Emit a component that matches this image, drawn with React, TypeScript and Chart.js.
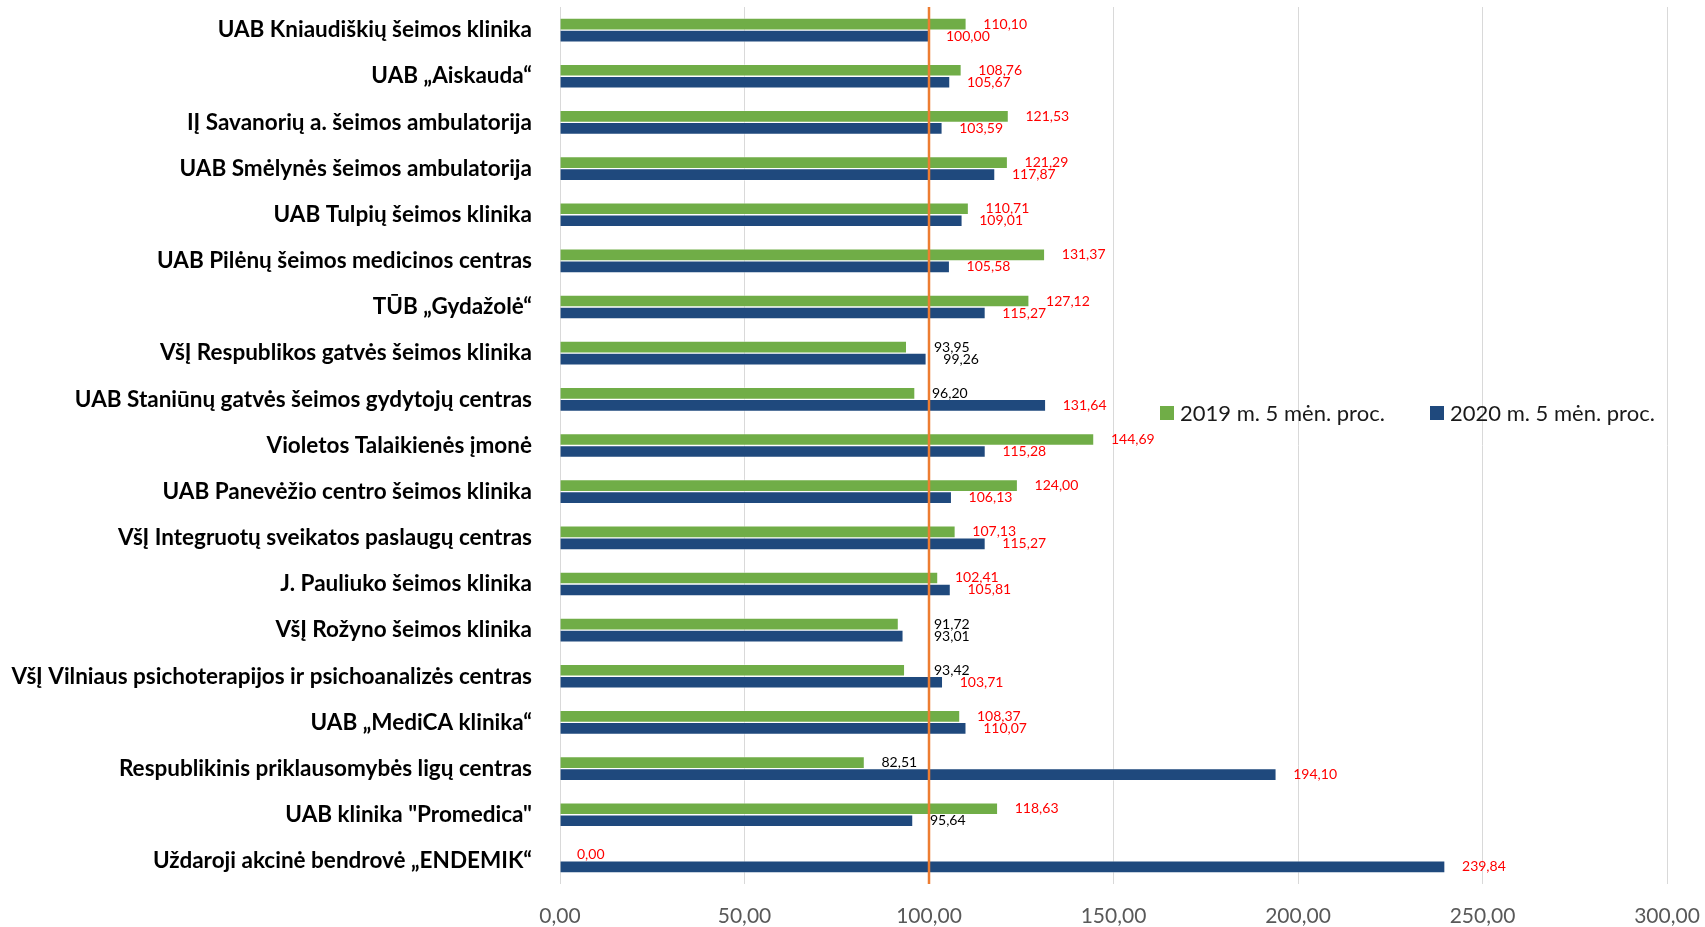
import React, { useEffect, useRef } from "react";
import { Chart, registerables } from "chart.js";

Chart.register(...registerables);

const categories = [
  "UAB Kniaudiškių šeimos klinika",
  "UAB „Aiskauda“",
  "IĮ Savanorių a. šeimos ambulatorija",
  "UAB Smėlynės šeimos ambulatorija",
  "UAB Tulpių šeimos klinika",
  "UAB Pilėnų šeimos medicinos centras",
  "TŪB „Gydažolė“",
  "VšĮ Respublikos gatvės šeimos klinika",
  "UAB Staniūnų gatvės šeimos gydytojų centras",
  "Violetos Talaikienės įmonė",
  "UAB Panevėžio centro šeimos klinika",
  "VšĮ Integruotų sveikatos paslaugų centras",
  "J. Pauliuko šeimos klinika",
  "VšĮ Rožyno šeimos klinika",
  "VšĮ Vilniaus psichoterapijos ir psichoanalizės centras",
  "UAB „MediCA klinika“",
  "Respublikinis priklausomybės ligų centras",
  "UAB klinika \"Promedica\"",
  "Uždaroji akcinė bendrovė „ENDEMIK“",
];

const values2019 = [
  110.1, 108.76, 121.53, 121.29, 110.71, 131.37, 127.12, 93.95, 96.2, 144.69,
  124.0, 107.13, 102.41, 91.72, 93.42, 108.37, 82.51, 118.63, 0.0,
];

const values2020 = [
  100.0, 105.67, 103.59, 117.87, 109.01, 105.58, 115.27, 99.26, 131.64, 115.28,
  106.13, 115.27, 105.81, 93.01, 103.71, 110.07, 194.1, 95.64, 239.84,
];

const seriesLabels = ["2019 m. 5 mėn. proc.", "2020 m. 5 mėn. proc."];
const seriesColors = ["#70AD47", "#1F497D"];
const xTickValues = [0, 50, 100, 150, 200, 250, 300];
const referenceValue = 100;

const fmt = (v: number) => v.toFixed(2).replace(".", ",");
const FONT = "Lato, 'Open Sans', sans-serif";

const refLinePlugin = {
  id: "refLine",
  afterDatasetsDraw(chart: any) {
    const { ctx, chartArea, scales } = chart;
    const x = scales.x.getPixelForValue(referenceValue);
    ctx.save();
    ctx.strokeStyle = "#ED7D31";
    ctx.lineWidth = 2.5;
    ctx.beginPath();
    ctx.moveTo(x, chartArea.top);
    ctx.lineTo(x, chartArea.bottom);
    ctx.stroke();
    ctx.restore();
  },
};

const labelsPlugin = {
  id: "valueLabels",
  afterDraw(chart: any) {
    const { ctx, scales } = chart;
    const lineX = scales.x.getPixelForValue(referenceValue);
    ctx.save();
    ctx.font = `14px ${FONT}`;
    ctx.textAlign = "left";
    ctx.textBaseline = "middle";
    chart.data.datasets.forEach((ds: any, di: number) => {
      const meta = chart.getDatasetMeta(di);
      meta.data.forEach((bar: any, i: number) => {
        const v = ds.data[i];
        const text = fmt(v);
        const w = ctx.measureText(text).width;
        let x = bar.x + 17;
        if (x < lineX && x + w > lineX - 2) x = lineX + 5;
        ctx.fillStyle = v > 0 && v < 100 ? "#000000" : "#FF0000";
        ctx.fillText(text, x, bar.y);
      });
    });
    ctx.restore();
  },
};

const legendPlugin = {
  id: "customLegend",
  afterDraw(chart: any) {
    const { ctx } = chart;
    const items = [
      { bx: 1160, tx: 1180 },
      { bx: 1430, tx: 1450 },
    ];
    ctx.save();
    ctx.font = `22px ${FONT}`;
    ctx.textAlign = "left";
    ctx.textBaseline = "middle";
    items.forEach((it, i) => {
      ctx.fillStyle = seriesColors[i];
      ctx.fillRect(it.bx, 406, 14, 14);
      ctx.fillStyle = "#1a1a1a";
      ctx.fillText(seriesLabels[i], it.tx, 414);
    });
    ctx.restore();
  },
};

export default function App() {
  const ref = useRef<HTMLCanvasElement | null>(null);

  useEffect(() => {
    if (!ref.current) return;
    const chart = new Chart(ref.current, {
      type: "bar",
      data: {
        labels: categories,
        datasets: [
          {
            label: seriesLabels[0],
            data: values2019,
            backgroundColor: seriesColors[0],
            borderColor: "rgba(255,255,255,0.35)",
            borderWidth: 1,
            barThickness: 12,
          },
          {
            label: seriesLabels[1],
            data: values2020,
            backgroundColor: seriesColors[1],
            borderColor: "rgba(255,255,255,0.35)",
            borderWidth: 1,
            barThickness: 12,
          },
        ],
      },
      options: {
        indexAxis: "y",
        animation: false,
        responsive: false,
        maintainAspectRatio: false,
        layout: { padding: { top: 7, right: 38, left: 0, bottom: 0 } },
        plugins: {
          legend: { display: false },
          tooltip: { enabled: false },
        },
        scales: {
          x: {
            min: 0,
            max: 300,
            afterBuildTicks: (scale: any) => {
              scale.ticks = xTickValues.map((v) => ({ value: v }));
            },
            afterFit: (scale: any) => {
              scale.height = 43;
              scale.paddingLeft = 0;
              scale.paddingRight = 0;
            },
            grid: { color: "#D9D9D9", lineWidth: 1, drawTicks: false },
            border: { display: false },
            ticks: {
              padding: 20,
              color: "#595959",
              font: { family: FONT, size: 21 },
              callback: (v: any) => fmt(Number(v)),
            },
          },
          y: {
            afterFit: (scale: any) => {
              scale.width = 560;
              scale.paddingTop = 0;
              scale.paddingBottom = 0;
            },
            grid: { display: false, drawTicks: false },
            border: { display: false },
            ticks: {
              padding: 28,
              color: "#000000",
              font: { family: FONT, size: 22.5, weight: "bold" },
              autoSkip: false,
            },
          },
        },
      },
      plugins: [refLinePlugin, labelsPlugin, legendPlugin],
    });
    return () => chart.destroy();
  }, []);

  return (
    <div style={{ position: "fixed", left: 0, top: 0, width: 1705, height: 927, background: "#fff" }}>
      <canvas ref={ref} width={1705} height={927} style={{ width: 1705, height: 927 }} />
    </div>
  );
}
